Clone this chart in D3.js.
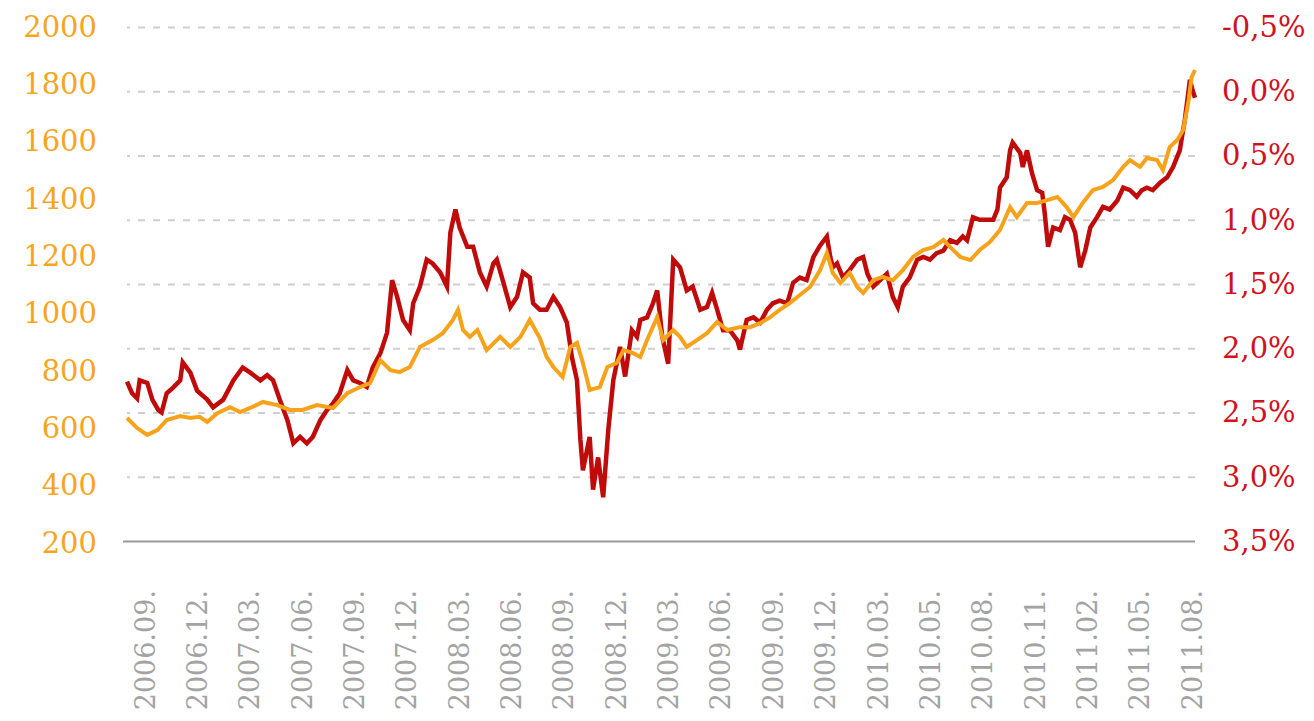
<!DOCTYPE html>
<html>
<head>
<meta charset="utf-8">
<script src="https://cdn.jsdelivr.net/npm/d3@7"></script>
<style>
  body { margin: 0; background: #fff; }
  svg { display: block; }
</style>
</head>
<body>
<div id="chart"></div>
<script>
// x axis is a trading-day index (category axis), labels every 62 days
var tickDays = [21, 83, 145, 207, 269, 331, 393, 455, 517, 579, 641, 703, 765, 827, 889, 951, 1013, 1075, 1137, 1199, 1261];
var tickLabels = ["2006.09.", "2006.12.", "2007.03.", "2007.06.", "2007.09.", "2007.12.", "2008.03.",
  "2008.06.", "2008.09.", "2008.12.", "2009.03.", "2009.06.", "2009.09.", "2009.12.", "2010.03.",
  "2010.05.", "2010.08.", "2010.11.", "2011.02.", "2011.05.", "2011.08."];

var goldTicks = [200, 400, 600, 800, 1000, 1200, 1400, 1600, 1800, 2000];
var rateTicks = [-0.5, 0, 0.5, 1, 1.5, 2, 2.5, 3, 3.5];

// gold price (left axis)
var goldDays = [0,12,24,36,47,63,75,86,95,107, 122,134,146,161,178,193,208,225,244,261,
  276,288,300,312,323,335,347,362,374,386, 392,398,406,415,426,442,454,466,477,489,
  497,505,516,525,533,540,548,560,569,580, 588,599,608,616,628,635,647,655,663,675,
  687,699,711,726,738,750,762,773,785,797, 809,821,829,836,845,856,865,872,884,895,
  907,919,931,943,955,967,975,987,999,1010, 1022,1034,1046,1054,1066,1078,1090,1102,1113,1121,
  1132,1144,1156,1168,1180,1188,1200,1208,1220,1227, 1235,1244,1251,1257,1261,1265];
var goldPrice = [636,601,577,594,629,643,636,640,622,653, 674,657,671,692,681,664,664,681,671,723,
  744,758,838,803,796,814,884,908,932,978, 1013,943,919,943,873,919,884,919,978,915,
  849,814,779,884,898,828,734,744,814,828, 873,863,849,908,988,908,943,919,884,908,
  932,971,943,953,953,967,988,1013,1037,1065, 1093,1152,1212,1142,1107,1142,1093,1072,1117,1128,
  1117,1152,1198,1222,1232,1257,1232,1198,1187,1222, 1250,1292,1372,1337,1386,1386,1396,1407,1372,1337,
  1386,1431,1442,1466,1512,1536,1512,1543,1536,1501, 1581,1606,1641,1735,1825,1850];

// rate, % (right axis, inverted)
var rateDays = [0,6,12,15,24,30,37,41,47,54, 63,66,75,83,95,102,114,126,137,146,
  158,166,173,181,190,197,205,213,220,229, 237,244,252,261,268,276,284,291,300,308,
  314,320,327,335,339,347,355,362,371,379, 383,389,394,403,410,418,426,434,438,445,
  454,462,469,477,481,489,497,505,513,521, 527,533,537,540,548,552,558,564,570,576,
  584,590,598,604,608,616,623,628,634,641, 647,655,663,670,679,687,693,699,706,714,
  723,726,734,742,750,758,765,773,782,789, 797,805,813,821,829,833,836,841,848,856,
  865,872,877,884,892,900,907,913,919,927, 936,943,951,959,967,975,983,990,995,1002,
  1010,1019,1026,1031,1034,1042,1046,1049,1058,1061, 1066,1072,1078,1084,1087,1091,1097,1105,1111,1117,
  1123,1129,1135,1141,1149,1156,1164,1173,1180,1188, 1196,1202,1208,1215,1224,1232,1239,1247,1253,1259,
  1262,1265];
var rateValue = [2.26,2.35,2.39,2.25,2.27,2.40,2.48,2.50,2.35,2.31, 2.25,2.11,2.19,2.33,2.40,2.46,2.40,2.25,2.15,2.19,
  2.25,2.21,2.25,2.40,2.56,2.74,2.69,2.74,2.69,2.56, 2.48,2.43,2.35,2.17,2.25,2.27,2.30,2.15,2.04,1.88,
  1.47,1.60,1.78,1.86,1.65,1.52,1.31,1.34,1.41,1.52, 1.10,0.92,1.06,1.21,1.21,1.41,1.52,1.34,1.31,1.47,
  1.68,1.60,1.41,1.45,1.65,1.70,1.70,1.60,1.68,1.80, 2.07,2.25,2.71,2.95,2.69,3.10,2.85,3.16,2.64,2.25,
  1.99,2.22,1.86,1.91,1.78,1.76,1.65,1.55,1.91,2.12, 1.31,1.37,1.55,1.52,1.70,1.68,1.57,1.70,1.86,1.86,
  1.94,2.01,1.78,1.76,1.80,1.70,1.65,1.63,1.65,1.49, 1.45,1.47,1.29,1.20,1.13,1.29,1.37,1.34,1.45,1.39,
  1.31,1.29,1.42,1.52,1.47,1.42,1.60,1.68,1.52,1.45, 1.31,1.29,1.31,1.26,1.24,1.16,1.18,1.13,1.16,0.98,
  1.00,1.00,1.00,0.92,0.75,0.67,0.46,0.40,0.48,0.59, 0.46,0.64,0.77,0.79,0.95,1.21,1.06,1.08,0.98,1.00,
  1.10,1.37,1.24,1.06,0.98,0.90,0.92,0.85,0.75,0.77, 0.82,0.77,0.75,0.77,0.71,0.67,0.59,0.46,0.22,-0.09,
  -0.01,0.05];

var svgWidth = 1314;
var svgHeight = 721;

var margin = { top: 27, right: 119, bottom: 178, left: 127 };
var width = svgWidth - margin.left - margin.right;
var height = svgHeight - margin.top - margin.bottom;

var gold = goldDays.map((d, i) => ({ day: d, value: goldPrice[i] }));
var rate = rateDays.map((d, i) => ({ day: d, value: rateValue[i] }));

var svg = d3.select("#chart")
  .append("svg")
  .attr("width", svgWidth)
  .attr("height", svgHeight);

var g = svg.append("g")
  .attr("transform", `translate(${margin.left}, ${margin.top})`);

var xScale = d3.scaleLinear().domain([0, 1265]).range([0, width]);
var yGold = d3.scaleLinear().domain([200, 2000]).range([height, 0]);
var yRate = d3.scaleLinear().domain([-0.5, 3.5]).range([0, height - 2]);

var huLocale = d3.formatLocale({ decimal: ",", thousands: " ", grouping: [3], currency: ["", ""], minus: "-" });
var pct = huLocale.format(".1f");

var labelFont = "'DejaVu Serif', Georgia, serif";

// right axis + gridlines
var rightAxis = d3.axisRight(yRate)
  .tickValues(rateTicks)
  .tickSize(-width)
  .tickPadding(27)
  .tickFormat(d => pct(d) + "%");

var rightG = g.append("g")
  .attr("transform", `translate(${width}, 0)`)
  .call(rightAxis);

rightG.select(".domain").remove();
rightG.selectAll(".tick line")
  .attr("stroke", "#cfcfcf")
  .attr("stroke-width", 2)
  .attr("stroke-dasharray", "7,8");
rightG.selectAll(".tick")
  .filter(d => d === 3.5)
  .select("line")
  .attr("stroke", "#9a9a9a")
  .attr("stroke-dasharray", null)
  .attr("x2", -width - 4);
rightG.selectAll(".tick text")
  .attr("fill", "#d0121c")
  .style("font-family", labelFont)
  .style("font-size", "29px");

// left axis
var leftAxis = d3.axisLeft(yGold)
  .tickValues(goldTicks)
  .tickSize(0)
  .tickPadding(30)
  .tickFormat(d3.format("d"));

var leftG = g.append("g").call(leftAxis);
leftG.select(".domain").remove();
leftG.selectAll(".tick text")
  .attr("fill", "#f7a51e")
  .style("font-family", labelFont)
  .style("font-size", "29px");

// x axis labels
var xAxis = d3.axisBottom(xScale)
  .tickValues(tickDays)
  .tickSize(0)
  .tickFormat((d, i) => tickLabels[i]);

var xG = g.append("g")
  .attr("transform", `translate(0, ${height})`)
  .call(xAxis);
xG.select(".domain").remove();
xG.selectAll(".tick text")
  .attr("transform", "rotate(-90)")
  .attr("x", -47)
  .attr("y", 0)
  .attr("dy", "0.35em")
  .attr("text-anchor", "end")
  .attr("fill", "#a3a3a3")
  .style("font-family", labelFont)
  .style("font-size", "27px");

// lines
var rateLine = d3.line()
  .x(d => xScale(d.day))
  .y(d => yRate(d.value));

var goldLine = d3.line()
  .x(d => xScale(d.day))
  .y(d => yGold(d.value));

g.append("path")
  .datum(rate)
  .attr("fill", "none")
  .attr("stroke", "#c00b0b")
  .attr("stroke-width", 4.5)
  .attr("d", rateLine);

g.append("path")
  .datum(gold)
  .attr("fill", "none")
  .attr("stroke", "#f7a21b")
  .attr("stroke-width", 4)
  .attr("d", goldLine);
</script>
</body>
</html>
